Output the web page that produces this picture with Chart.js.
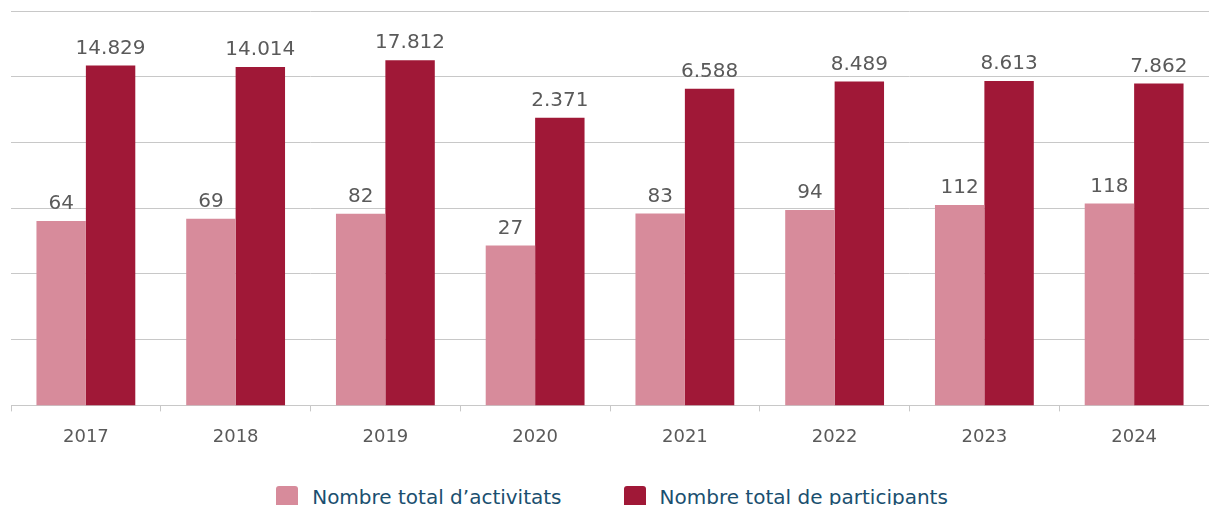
<!DOCTYPE html>
<html>
<head>
<meta charset="utf-8">
<script src="https://cdn.jsdelivr.net/npm/chart.js@4"></script>
<style>
  html, body { margin: 0; padding: 0; background: #fff; overflow: hidden; }
  #wrap { width: 1209px; height: 505px; position: relative; }
  #box { width: 1209px; height: 463px; position: absolute; left: 0; top: 0; }
  #legend {
    position: absolute; left: 0; top: 486px; width: 1209px;
    display: flex; justify-content: center; align-items: center;
    font: 20px "DejaVu Sans", Verdana, sans-serif; color: #1a4f6f;
    line-height: 22px; padding-left: 15px; box-sizing: border-box;
  }
  .item { display: flex; align-items: flex-start; margin: 0 31px; }
  .sw { width: 22px; height: 22px; border-radius: 3px; margin-right: 14px; }
</style>
</head>
<body>
<div id="wrap">
  <div id="box"><canvas id="chart"></canvas></div>
  <div id="legend"></div>
</div>
<script>
// years on the x axis
var years = ['2017', '2018', '2019', '2020', '2021', '2022', '2023', '2024'];

// series values
var activitats = [64, 69, 82, 27, 83, 94, 112, 118];
var participants = [14829, 14014, 17812, 2371, 6588, 8489, 8613, 7862];

// gridlines (log scale, decades)
var yGrid = [0.1, 1, 10, 100, 1000, 10000, 100000];

var pink = '#d78b9b';
var wine = '#a01837';

function fmt(v) {
    return v.toString().replace(/\B(?=(\d{3})+(?!\d))/g, '.');
}

// value labels on top of the bars
var valueLabels = {
    id: 'valueLabels',
    afterDatasetsDraw: function(chart) {
        var ctx = chart.ctx;
        ctx.save();
        ctx.font = '20px "DejaVu Sans", Verdana, sans-serif';
        ctx.fillStyle = '#5a5a5a';
        ctx.textAlign = 'center';
        ctx.textBaseline = 'bottom';
        chart.data.datasets.forEach(function(ds, i) {
            var meta = chart.getDatasetMeta(i);
            meta.data.forEach(function(bar, j) {
                ctx.fillText(fmt(ds.data[j]), bar.x, bar.y - 7);
            });
        });
        ctx.restore();
    }
};

var chart = new Chart(document.getElementById('chart'), {
    type: 'bar',
    data: {
        labels: years,
        datasets: [{
            label: 'Nombre total d\u2019activitats',
            data: activitats,
            backgroundColor: pink
        }, {
            label: 'Nombre total de participants',
            data: participants,
            backgroundColor: wine
        }]
    },
    options: {
        responsive: true,
        maintainAspectRatio: false,
        animation: false,
        layout: { padding: { left: 11, top: 11, right: 0, bottom: 0 } },
        datasets: {
            bar: { categoryPercentage: 0.66, barPercentage: 1 }
        },
        scales: {
            x: {
                grid: {
                    offset: true,
                    drawOnChartArea: false,
                    drawTicks: true,
                    tickLength: 6,
                    color: '#c8c8c8'
                },
                border: { display: true, color: '#c8c8c8' },
                ticks: {
                    color: '#5a5a5a',
                    padding: 15,
                    font: { family: '"DejaVu Sans", Verdana, sans-serif', size: 18 }
                }
            },
            y: {
                type: 'logarithmic',
                min: 0.1,
                max: 100000,
                afterBuildTicks: function(axis) {
                    axis.ticks = yGrid.map(function(v) { return { value: v }; });
                },
                ticks: { display: false },
                grid: { color: '#c8c8c8', drawTicks: false },
                border: { display: false }
            }
        },
        plugins: {
            tooltip: { enabled: false },
            legend: { display: false }
        }
    },
    plugins: [valueLabels]
});

// legend built from the datasets
var legend = document.getElementById('legend');
chart.data.datasets.forEach(function(ds) {
    var item = document.createElement('div');
    item.className = 'item';
    var sw = document.createElement('span');
    sw.className = 'sw';
    sw.style.background = ds.backgroundColor;
    var txt = document.createElement('span');
    txt.textContent = ds.label;
    item.appendChild(sw);
    item.appendChild(txt);
    legend.appendChild(item);
});
</script>
</body>
</html>
